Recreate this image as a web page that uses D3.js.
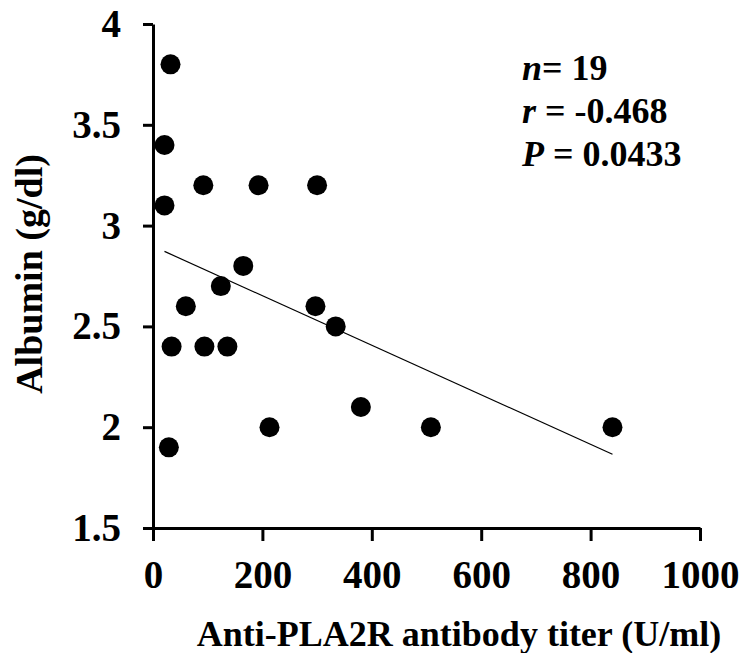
<!DOCTYPE html>
<html>
<head>
<meta charset="utf-8">
<script src="https://cdn.jsdelivr.net/npm/d3@7"></script>
<style>
  body { margin: 0; background: #fff; }
  text { font-family: "Liberation Serif", "Times New Roman", serif; font-weight: bold; fill: #000; }
</style>
</head>
<body>
<div id="chart"></div>
<script>
// anti-PLA2R titer (U/ml) vs albumin (g/dl)
const titer =   [32, 21, 21, 92, 193, 300, 165, 124, 60, 297, 334, 34, 94, 136, 213, 380, 508, 840, 29];
const albumin = [3.8, 3.4, 3.1, 3.2, 3.2, 3.2, 2.8, 2.7, 2.6, 2.6, 2.5, 2.4, 2.4, 2.4, 2.0, 2.1, 2.0, 2.0, 1.9];
const xTicks = [0, 200, 400, 600, 800, 1000];
const yTicks = [1.5, 2, 2.5, 3, 3.5, 4];
const stats = [
    { sym: "n", rest: "= 19" },
    { sym: "r", rest: " = -0.468" },
    { sym: "P", rest: " = 0.0433" }
];

const width = 742, height = 653;
const margin = { top: 24, right: 42, bottom: 125, left: 153 };

const svg = d3.select("#chart").append("svg")
    .attr("width", width)
    .attr("height", height);

const x = d3.scaleLinear().domain([0, 1000]).range([margin.left, width - margin.right]);
const y = d3.scaleLinear().domain([1.5, 4]).range([height - margin.bottom, margin.top]);

const points = titer.map((t, i) => ({ x: t, y: albumin[i] }));

// least-squares fit
const mx = d3.mean(points, d => d.x), my = d3.mean(points, d => d.y);
const slope = d3.sum(points, d => (d.x - mx) * (d.y - my)) / d3.sum(points, d => (d.x - mx) ** 2);
const icpt = my - slope * mx;
const [x0, x1] = d3.extent(titer);

svg.append("line")
    .attr("x1", x(x0)).attr("y1", y(icpt + slope * x0))
    .attr("x2", x(x1)).attr("y2", y(icpt + slope * x1))
    .attr("stroke", "#000")
    .attr("stroke-width", 1.2);

svg.append("g")
    .selectAll("circle")
    .data(points)
    .enter().append("circle")
    .attr("cx", d => x(d.x))
    .attr("cy", d => y(d.y))
    .attr("r", 10)
    .attr("fill", "#000");

const xAxis = svg.append("g")
    .attr("transform", `translate(0,${y(1.5)})`)
    .call(d3.axisBottom(x).tickValues(xTicks).tickFormat(d3.format("d"))
        .tickSize(13).tickSizeOuter(0).tickPadding(19));

const yAxis = svg.append("g")
    .attr("transform", `translate(${x(0)},0)`)
    .call(d3.axisLeft(y).tickValues(yTicks).tickFormat(d3.format(""))
        .tickSize(10).tickSizeOuter(0).tickPadding(22));

[xAxis, yAxis].forEach(g => {
    g.selectAll("path, line").attr("stroke", "#000").attr("stroke-width", 3);
    g.selectAll("text")
        .style("font-family", "'Liberation Serif', serif")
        .style("font-weight", "bold")
        .style("font-size", "39px");
});

svg.append("text")
    .attr("x", 459)
    .attr("y", 646)
    .attr("text-anchor", "middle")
    .style("font-size", "36px")
    .text("Anti-PLA2R antibody titer (U/ml)");

svg.append("text")
    .attr("transform", "translate(42,274) rotate(-90)")
    .attr("text-anchor", "middle")
    .style("font-size", "38px")
    .text("Albumin (g/dl)");

const st = svg.append("g");
stats.forEach((s, i) => {
    const t = st.append("text")
        .attr("x", 522)
        .attr("y", 80 + i * 43)
        .style("font-size", "36px");
    t.append("tspan").style("font-style", "italic").text(s.sym);
    t.append("tspan").attr("xml:space", "preserve").text(s.rest);
});
</script>
</body>
</html>
